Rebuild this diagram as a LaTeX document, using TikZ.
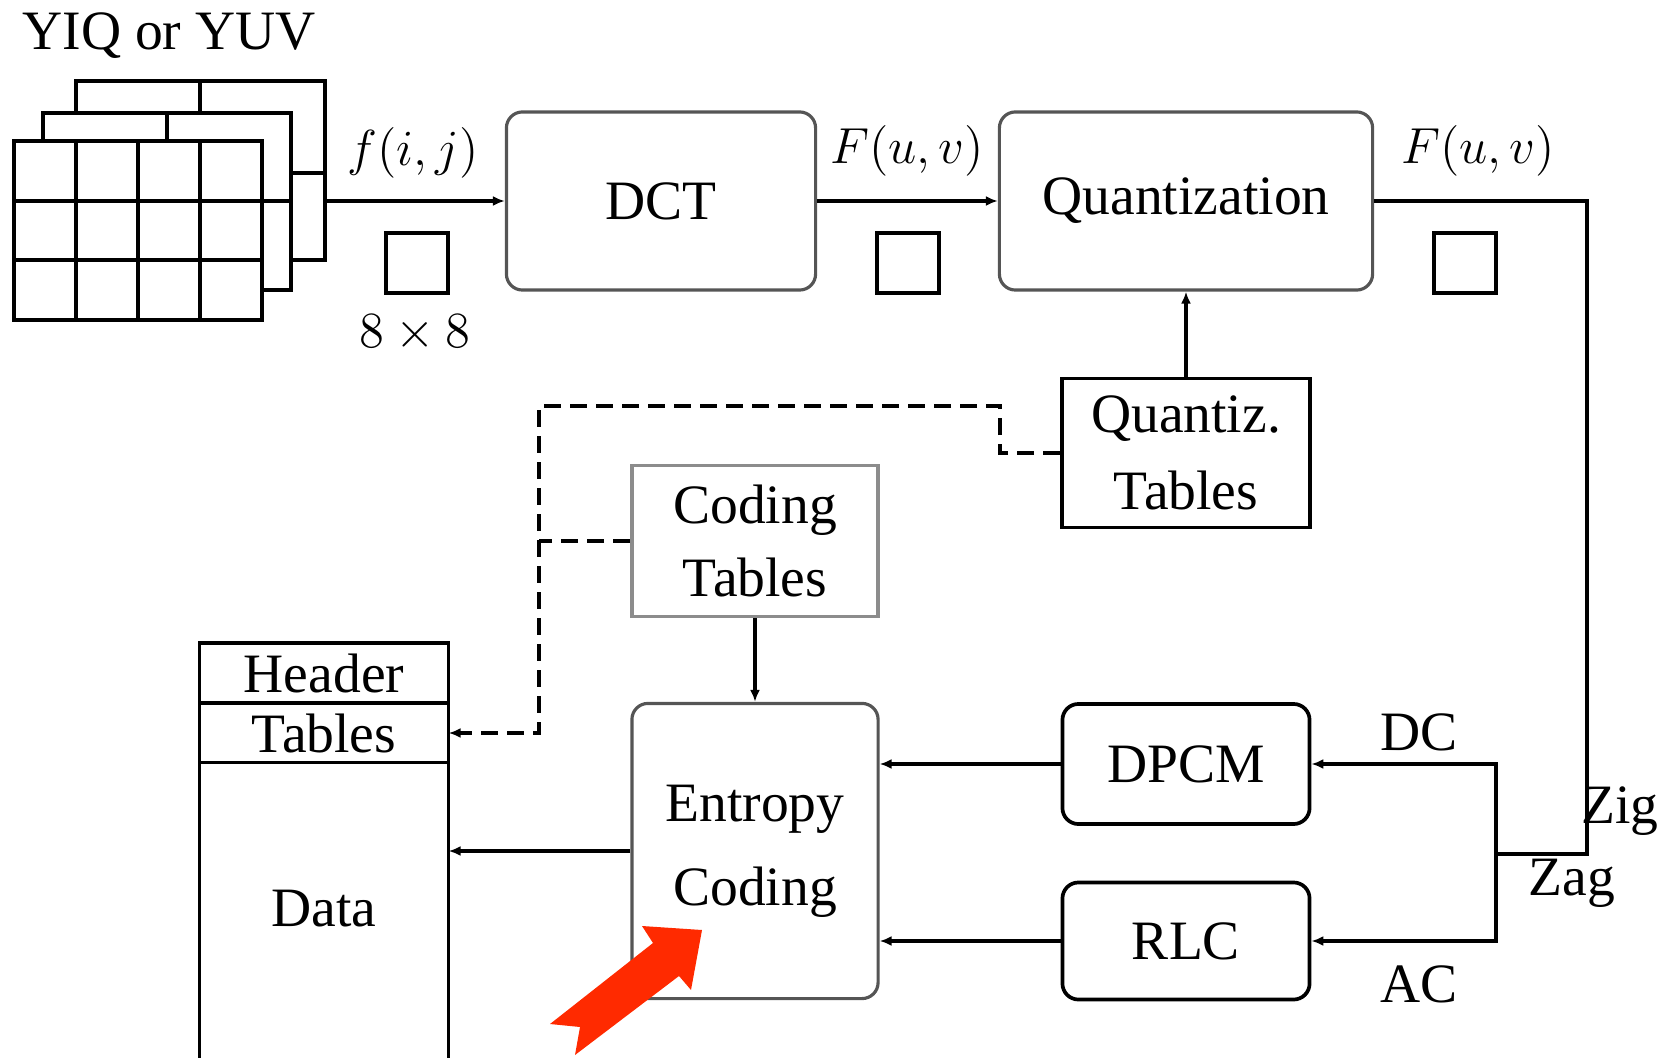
\documentclass[tikz,border=0pt]{standalone}
\usepackage{fontspec}
\setmainfont{Liberation Serif}
\usepackage{tikz}
\usetikzlibrary{arrows.meta, positioning, calc}
\usepackage{xcolor}
\definecolor{pointer}{HTML}{FF2A00}
\definecolor{rim}{HTML}{555555}

\begin{document}
\begin{tikzpicture}[
    x=0.01cm, y=-0.01cm,
    line width=1.05pt,
    font=\fontsize{15.8}{22}\selectfont,
    roundbox/.style={draw=rim, line width=0.9pt, rounded corners=0.16cm, align=center, inner sep=0pt},
    tablebox/.style={draw, align=center, inner sep=0pt},
    cellbox/.style={draw, minimum width=2.49cm, inner sep=0pt, outer sep=0pt},
    blocksq/.style={draw, minimum width=0.62cm, minimum height=0.6cm, inner sep=0pt},
    >={Latex[length=1.2mm,width=1mm]}
]
\useasboundingbox (0,0) rectangle (1667,1058);

\node[anchor=base] (yuv) at (169,50) {YIQ or YUV};
\filldraw[fill=white] (76,81) rectangle (325,260);
\draw (200,81) -- (200,260);
\draw (76,173) -- (325,173);
\filldraw[fill=white] (43,113) rectangle (291,290);
\draw (167,113) -- (167,290);
\draw (43,201) -- (291,201);
\filldraw[fill=white] (14,141) rectangle (262,320);
\foreach \gx in {76,138,200} \draw (\gx,141) -- (\gx,320);
\foreach \gy in {201,260} \draw (14,\gy) -- (262,\gy);
\coordinate (img) at (325,201);

\node[roundbox, minimum width=3.09cm, minimum height=1.78cm] (dct) at (661,201) {DCT};
\node[roundbox, minimum width=3.73cm, minimum height=1.78cm] (quant) at (1186,201) {Quantization};
\node[tablebox, minimum width=2.48cm, minimum height=1.49cm] (qtab) at (1186,453) {Quantiz.\\Tables};
\node[tablebox, draw=black!45, minimum width=2.46cm, minimum height=1.51cm,
      font=\fontsize{15.8}{20.5}\selectfont] (ctab) at (755,541) {Coding\\Tables};
\node[roundbox, minimum width=2.46cm, minimum height=2.95cm,
      font=\fontsize{15.8}{24}\selectfont] (entropy) at (755,851) {Entropy\\Coding};
\node[roundbox, draw=black, line width=1.05pt, minimum width=2.47cm, minimum height=1.2cm] (dpcm) at (1186,764) {DPCM};
\node[roundbox, draw=black, line width=1.05pt, minimum width=2.47cm, minimum height=1.17cm] (rlc) at (1186,941) {RLC};

\node[cellbox, minimum height=0.6cm] (hdr) at (324,673) {Header};
\node[cellbox, minimum height=0.59cm] (htab) at (324,733) {Tables};
\node[minimum width=2.49cm, minimum height=2.94cm, inner sep=0pt, outer sep=0pt] (hdata) at (324,909) {Data};
\draw (hdata.north west) -- (hdata.south west |- 0,1058);
\draw (hdata.north east) -- (hdata.south east |- 0,1058);

\node[blocksq] (sq1) at (417,263) {};
\node[blocksq] (sq2) at (908,263) {};
\node[blocksq] (sq3) at (1465,263) {};
\node[anchor=base] (fij) at (413,166) {$f(i,j)$};
\node[anchor=base] (fuv1) at (907,164) {$F(u,v)$};
\node[anchor=base] (fuv2) at (1478,164) {$F(u,v)$};
\node[anchor=base] (blk) at (415,348) {$8\times 8$};

\coordinate (zz) at (1587,854);
\coordinate (split) at (1496,854);
\node[anchor=base] (dc) at (1419,750) {DC};
\node[anchor=base] (ac) at (1419,1002) {AC};
\node[anchor=base] (zig) at (1620,823) {Zig};
\node[anchor=base] (zag) at (1572,895) {Zag};

\draw[->] (img) -- (dct.west);
\draw[->] (dct.east) -- (quant.west);
\draw[->] (qtab) -- (quant);
\draw (quant.east) -| (zz) -- (split);
\draw[->] (split) |- (dpcm.east);
\draw[->] (split) |- (rlc.east);
\draw[->] (dpcm.west) -- (dpcm.west -| entropy.east);
\draw[->] (rlc.west) -- (rlc.west -| entropy.east);
\draw[->] (ctab) -- (entropy);
\draw[->] (entropy.west) -- (entropy.west -| hdata.east);

\coordinate (dq) at (1000,406);
\coordinate (dk) at (539,406);
\draw[dash pattern=on 0.17cm off 0.09cm, ->] (qtab.west) -| (dq) -- (dk) |- (htab.east);
\draw[dash pattern=on 0.17cm off 0.09cm] (ctab.west) -- (ctab.west -| dk);

\fill[pointer] (702,930) -- (642,926) -- (653,943) -- (550,1024) -- (580,1027)
    -- (575,1055) -- (679,976) -- (691,990) -- cycle;
\end{tikzpicture}
\end{document}
